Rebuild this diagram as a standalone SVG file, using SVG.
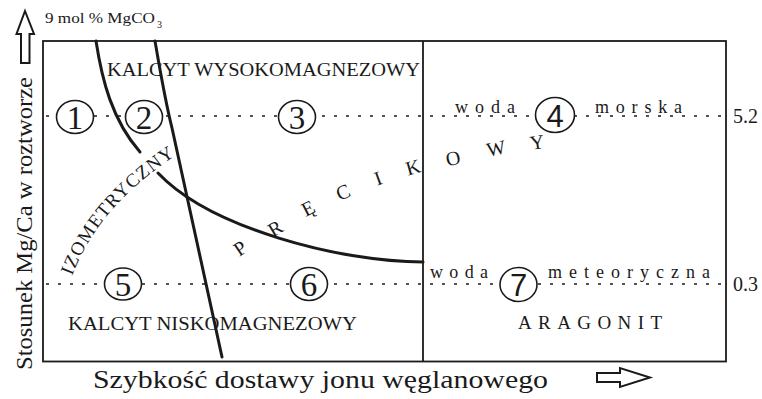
<svg xmlns="http://www.w3.org/2000/svg" width="762" height="399" viewBox="0 0 762 399">
<style>
text{font-family:"Liberation Serif","Times New Roman",serif;fill:#1a1a1a}
.frame{fill:none;stroke:#1a1a1a;stroke-width:1.8}
.thick{fill:none;stroke:#1a1a1a;stroke-width:3;stroke-linecap:round}
.dot{fill:none;stroke:#1a1a1a;stroke-width:1.6;stroke-dasharray:3 9}
.circ{fill:#fff;stroke:#1a1a1a;stroke-width:1.6}
.num{font-size:33px;text-anchor:middle}
.nums{font-family:"Liberation Sans",Arial,sans-serif;font-size:31px;text-anchor:middle}
.lab{font-size:19px}
.sp{font-size:18px}
.pk{font-size:20px;text-anchor:middle}
.arr{fill:#fff;stroke:#1a1a1a;stroke-width:2;stroke-linejoin:miter}
</style>
<defs><path id="izo" d="M72,276 Q99,205 178,154"/></defs>
<rect width="762" height="399" fill="#fff"/>
<g id="axes">
<polygon class="arr" points="25,11 34,34 29.5,34 29.5,63 21,63 21,34 16.5,34"/>
<polygon class="arr" points="597,373 620,373 620,368 650,377.5 620,387 620,382 597,382"/>
<text x="45" y="23" font-size="15" textLength="110" lengthAdjust="spacingAndGlyphs">9 mol % MgCO</text>
<text x="157" y="28" font-size="10">3</text>
<text transform="translate(32,370) rotate(-90)" font-size="24" textLength="293" lengthAdjust="spacingAndGlyphs">Stosunek Mg/Ca w roztworze</text>
<text x="93" y="388" font-size="26" textLength="455" lengthAdjust="spacingAndGlyphs">Szybkość dostawy jonu węglanowego</text>
<text x="733" y="123" font-size="20">5.2</text>
<text x="733" y="291" font-size="20">0.3</text>
</g>
<g id="frame">
<rect class="frame" x="43" y="41" width="683" height="320.5"/>
<line class="frame" x1="423" y1="41" x2="423" y2="361.5"/>
</g>
<g id="connectors">
<line class="dot" x1="46" y1="116" x2="726" y2="116"/>
<line class="dot" x1="46" y1="284" x2="726" y2="284"/>
<path class="thick" d="M96,41 C102,80 112,120 140,152"/>
<path class="thick" d="M158,173 C210,228 340,262 423,262"/>
<path class="thick" d="M155,41 C160,70 165,100 172,128 L222,357"/>
</g>
<g id="labels">
<text class="lab" x="107" y="76" textLength="313" lengthAdjust="spacingAndGlyphs">KALCYT WYSOKOMAGNEZOWY</text>
<text class="lab" x="68" y="330" textLength="289" lengthAdjust="spacingAndGlyphs">KALCYT NISKOMAGNEZOWY</text>
<text class="lab" x="518" y="329" textLength="144" lengthAdjust="spacing">ARAGONIT</text>
<text class="sp" x="455" y="113" textLength="60" lengthAdjust="spacing">woda</text>
<text class="sp" x="595" y="113" textLength="87" lengthAdjust="spacing">morska</text>
<text class="sp" x="430" y="278" textLength="58" lengthAdjust="spacing">woda</text>
<text class="sp" x="548" y="278" textLength="162" lengthAdjust="spacing">meteoryczna</text>
<text id="izometryczny" font-size="19" letter-spacing="1.1"><textPath href="#izo">IZOMETRYCZNY</textPath></text>
</g>
<g id="precikowy">
<text class="pk" transform="translate(240,248) rotate(-34)" y="7">P</text>
<text class="pk" transform="translate(275,228) rotate(-31)" y="7">R</text>
<text class="pk" transform="translate(308,208) rotate(-27)" y="7">Ę</text>
<text class="pk" transform="translate(343,192) rotate(-23)" y="7">C</text>
<text class="pk" transform="translate(378,178) rotate(-20)" y="7">I</text>
<text class="pk" transform="translate(413,167) rotate(-16)" y="7">K</text>
<text class="pk" transform="translate(453,158) rotate(-13)" y="7">O</text>
<text class="pk" transform="translate(496,148) rotate(-11)" y="7">W</text>
<text class="pk" transform="translate(537,142) rotate(-9)" y="7">Y</text>
</g>
<g id="n1"><ellipse class="circ" cx="75" cy="117" rx="18.5" ry="16.5"/><text class="num" x="75" y="128.5">1</text></g>
<g id="n2"><ellipse class="circ" cx="144" cy="117" rx="18.5" ry="16.5"/><text class="num" x="144" y="128.5">2</text></g>
<g id="n3"><ellipse class="circ" cx="297" cy="117" rx="18.5" ry="16.5"/><text class="num" x="297" y="128.5">3</text></g>
<g id="n4"><ellipse class="circ" cx="555" cy="115" rx="19.5" ry="17.5"/><text class="nums" x="555" y="126.5">4</text></g>
<g id="n5"><ellipse class="circ" cx="123" cy="284" rx="18.5" ry="16"/><text class="num" x="123" y="295.5">5</text></g>
<g id="n6"><ellipse class="circ" cx="309" cy="284" rx="18.5" ry="16.5"/><text class="num" x="309" y="295.5">6</text></g>
<g id="n7"><ellipse class="circ" cx="518.5" cy="284.5" rx="18.5" ry="17"/><text class="nums" x="518.5" y="296">7</text></g>
</svg>
